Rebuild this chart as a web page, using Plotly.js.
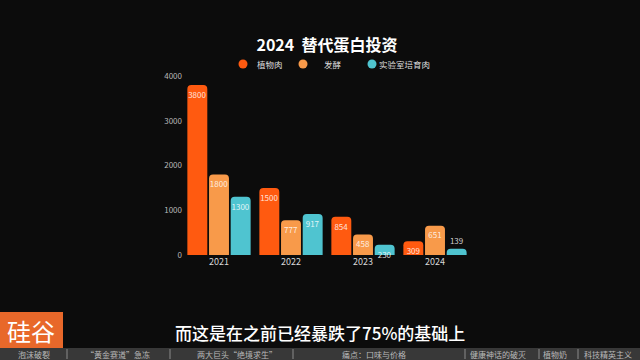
<!DOCTYPE html>
<html>
<head>
<meta charset="utf-8">
<script src="https://cdn.plot.ly/plotly-3.0.1.min.js"></script>
<style>
html,body{margin:0;padding:0;background:#0c0c0c;}
#chart{width:640px;height:360px;}
</style>
</head>
<body>
<div id="chart"></div>
<script>
const years = ['2021', '2022', '2023', '2024'];
const seriesNames = ['植物肉', '发酵', '实验室培育肉'];
const plantMeat = [3800, 1500, 854, 309];
const fermentation = [1800, 777, 458, 651];
const labMeat = [1300, 917, 230, 139];
const yTicks = [0, 1000, 2000, 3000, 4000];
const colors = ['#FF5A10', '#F89A4A', '#4FC4D0'];
const chartTitle = '2024  替代蛋白投资';
const subtitle = '而这是在之前已经暴跌了75%的基础上';
const navItems = ['泡沫破裂', '“黄金赛道”急冻', '两大巨头“绝境求生”', '痛点：口味与价格', '健康神话的破灭', '植物奶', '科技精英主义'];
const navCenters = [34, 118, 237, 374, 498, 555, 608];
const navSeparators = [67, 170, 293, 465, 539, 578];

const F = '"Noto Sans CJK SC", "Noto Sans", sans-serif';
const W = 640, H = 360, L = 183, R = 169, T = 76, B = 105;
const pw = W - L - R, ph = H - T - B;
const px = x => (x - L) / pw;
const py = y => (H - B - y) / ph;

const allSeries = [plantMeat, fermentation, labMeat];
const traces = allSeries.map((vals, i) => ({
  type: 'bar',
  name: seriesNames[i],
  x: years,
  y: vals,
  text: vals.map(String),
  textposition: vals.map(v => v < 200 ? 'outside' : 'inside'),
  insidetextanchor: 'end',
  textangle: 0,
  constraintext: 'none',
  cliponaxis: false,
  textfont: {family: F, size: 8, color: 'rgba(255,255,255,0.85)'},
  outsidetextfont: {family: F, size: 8.5, color: '#d0d0d0'},
  marker: {color: colors[i], cornerradius: 4},
  hoverinfo: 'none'
}));

const annotations = [];
const shapes = [];
// manual legend
const legendCircles = [243, 303, 372];
const legendTexts = [270, 333, 404];
seriesNames.forEach((n, i) => {
  shapes.push({type: 'circle', xref: 'paper', yref: 'paper', xsizemode: 'pixel', ysizemode: 'pixel',
    xanchor: px(legendCircles[i]), yanchor: py(64), x0: -4.5, x1: 4.5, y0: -4.5, y1: 4.5,
    fillcolor: colors[i], line: {width: 0}});
  annotations.push({xref: 'paper', yref: 'paper', x: px(legendTexts[i]), y: py(64), text: n,
    showarrow: false, xanchor: 'center', yanchor: 'middle', font: {family: F, size: 8.5, color: '#dddddd'}});
});
// subtitle
annotations.push({xref: 'paper', yref: 'paper', x: px(320), y: py(332), text: subtitle, showarrow: false,
  xanchor: 'center', yanchor: 'middle', font: {family: F, size: 17, color: '#ffffff', weight: 500}});
// nav bar
shapes.push({type: 'rect', xref: 'paper', yref: 'paper', x0: px(0), x1: px(640), y0: py(360), y1: py(348),
  fillcolor: '#383838', line: {width: 0}, layer: 'below'});
navSeparators.forEach(s => shapes.push({type: 'line', xref: 'paper', yref: 'paper', x0: px(s), x1: px(s),
  y0: py(359), y1: py(349), line: {color: '#8a8a8a', width: 1}}));
navItems.forEach((t, i) => annotations.push({xref: 'paper', yref: 'paper', x: px(navCenters[i]), y: py(354),
  text: t, showarrow: false, xanchor: 'center', yanchor: 'middle', font: {family: F, size: 8, color: '#b8b8b8'}}));
// logo
shapes.push({type: 'rect', xref: 'paper', yref: 'paper', x0: px(0), x1: px(63), y0: py(348), y1: py(312),
  fillcolor: '#E8682A', line: {width: 0}});
annotations.push({xref: 'paper', yref: 'paper', x: px(31), y: py(330), text: '硅谷', showarrow: false,
  xanchor: 'center', yanchor: 'middle', font: {family: F, size: 24, color: '#ffffff'}});

const layout = {
  width: W, height: H,
  paper_bgcolor: '#0c0c0c', plot_bgcolor: 'rgba(0,0,0,0)',
  margin: {l: L, r: R, t: T, b: B, pad: 0},
  title: {text: chartTitle, x: 327 / W, xref: 'container', xanchor: 'center', y: 1 - 45 / H, yref: 'container', yanchor: 'middle',
    font: {family: F, size: 16, color: '#ffffff', weight: 'bold'}},
  showlegend: false,
  uniformtext: {mode: 'show', minsize: 8},
  barmode: 'group', bargap: 0.097, bargroupgap: 0.08,
  xaxis: {type: 'category', range: [-0.5, 3.5], showgrid: false, zeroline: false, showline: false, ticks: '',
    tickfont: {family: F, size: 9, color: '#d8d8d8'}, fixedrange: true},
  yaxis: {range: [0, 4000], tickvals: yTicks, ticktext: yTicks.map(String), showgrid: false, zeroline: false,
    showline: false, ticks: '', tickfont: {family: F, size: 8, color: '#b8b8b8'}, fixedrange: true},
  annotations: annotations, shapes: shapes
};
Plotly.newPlot('chart', traces, layout, {displayModeBar: false, staticPlot: true});
</script>
</body>
</html>
